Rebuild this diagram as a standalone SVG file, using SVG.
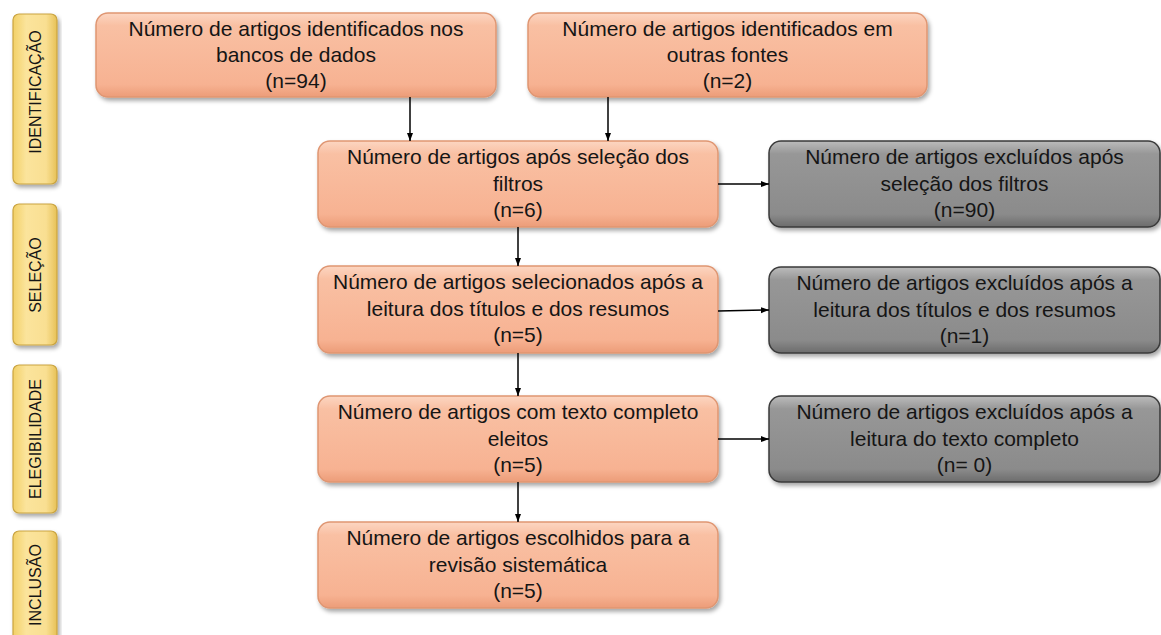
<svg xmlns="http://www.w3.org/2000/svg" width="1161" height="635" viewBox="0 0 1161 635">
<defs>
<linearGradient id="gOr" x1="0" y1="0" x2="0" y2="1">
<stop offset="0" stop-color="#fcd6c2"/>
<stop offset="0.15" stop-color="#f9c0a3"/>
<stop offset="0.85" stop-color="#f7b292"/>
<stop offset="1" stop-color="#ec9c78"/>
</linearGradient>
<linearGradient id="gGr" x1="0" y1="0" x2="0" y2="1">
<stop offset="0" stop-color="#bcbcbc"/>
<stop offset="0.15" stop-color="#979797"/>
<stop offset="0.85" stop-color="#8b8b8b"/>
<stop offset="1" stop-color="#6c6c6c"/>
</linearGradient>
<linearGradient id="gYe" x1="0" y1="0" x2="1" y2="0">
<stop offset="0" stop-color="#f2d067"/>
<stop offset="0.3" stop-color="#fbe49c"/>
<stop offset="0.75" stop-color="#f9df92"/>
<stop offset="1" stop-color="#e7c157"/>
</linearGradient>
<filter id="sh" x="-10%" y="-10%" width="120%" height="130%">
<feDropShadow dx="2" dy="3" stdDeviation="2" flood-color="#000" flood-opacity="0.35"/>
</filter>
<marker id="ah" markerUnits="userSpaceOnUse" markerWidth="8" markerHeight="8" viewBox="0 0 8 8" refX="8" refY="4" orient="auto">
<path d="M0,1 L8,4 L0,7 Z" fill="#000"/>
</marker>
<style>
.or{fill:url(#gOr);stroke:#df9672;stroke-width:1.5;filter:url(#sh)}
.gr{fill:url(#gGr);stroke:#3a3a3a;stroke-width:1.5;filter:url(#sh)}
.ye{fill:url(#gYe);stroke:#caa440;stroke-width:1.2;filter:url(#sh)}
.t{font-family:"Liberation Sans",Arial,sans-serif;font-size:21px;fill:#151515;text-anchor:middle}
.s{font-family:"Liberation Sans",Arial,sans-serif;font-size:16px;fill:#151515;text-anchor:middle}
.c{stroke:#000;stroke-width:1.5;fill:none;marker-end:url(#ah)}
</style>
</defs>
<rect width="1161" height="635" fill="#fff"/>

<g id="stage-identificacao">
<rect class="ye" x="13" y="14" width="44" height="170" rx="6"/>
<text class="s" transform="translate(41,92) rotate(-90)">IDENTIFICAÇÃO</text>
</g>
<g id="stage-selecao">
<rect class="ye" x="13" y="204" width="44" height="141" rx="6"/>
<text class="s" transform="translate(41,275) rotate(-90)">SELEÇÃO</text>
</g>
<g id="stage-elegibilidade">
<rect class="ye" x="13" y="365" width="44" height="148" rx="6"/>
<text class="s" transform="translate(41,439) rotate(-90)">ELEGIBILIDADE</text>
</g>
<g id="stage-inclusao">
<rect class="ye" x="13" y="531" width="44" height="130" rx="6"/>
<text class="s" transform="translate(41,585) rotate(-90)">INCLUSÃO</text>
</g>

<g id="n1">
<rect class="or" x="96" y="13" width="400" height="84" rx="12"/>
<text class="t" x="296" y="36">Número de artigos identificados nos</text>
<text class="t" x="296" y="62">bancos de dados</text>
<text class="t" x="296" y="88">(n=94)</text>
</g>
<g id="n2">
<rect class="or" x="528" y="13" width="399" height="84" rx="12"/>
<text class="t" x="727.5" y="36">Número de artigos identificados em</text>
<text class="t" x="727.5" y="62">outras fontes</text>
<text class="t" x="727.5" y="88">(n=2)</text>
</g>
<g id="n3">
<rect class="or" x="318" y="141" width="400" height="86" rx="12"/>
<text class="t" x="518" y="164">Número de artigos após seleção dos</text>
<text class="t" x="518" y="190.5">filtros</text>
<text class="t" x="518" y="217">(n=6)</text>
</g>
<g id="g1">
<rect class="gr" x="769" y="141" width="391" height="86" rx="12"/>
<text class="t" x="964.5" y="164">Número de artigos excluídos após</text>
<text class="t" x="964.5" y="190.5">seleção dos filtros</text>
<text class="t" x="964.5" y="217">(n=90)</text>
</g>
<g id="n4">
<rect class="or" x="318" y="266" width="400" height="87" rx="12"/>
<text class="t" x="518" y="289">Número de artigos selecionados após a</text>
<text class="t" x="518" y="315.5">leitura dos títulos e dos resumos</text>
<text class="t" x="518" y="342">(n=5)</text>
</g>
<g id="g2">
<rect class="gr" x="769" y="267" width="391" height="86" rx="12"/>
<text class="t" x="964.5" y="290">Número de artigos excluídos após a</text>
<text class="t" x="964.5" y="316.5">leitura dos títulos e dos resumos</text>
<text class="t" x="964.5" y="343">(n=1)</text>
</g>
<g id="n5">
<rect class="or" x="318" y="396" width="400" height="86" rx="12"/>
<text class="t" x="518" y="419">Número de artigos com texto completo</text>
<text class="t" x="518" y="445.5">eleitos</text>
<text class="t" x="518" y="472">(n=5)</text>
</g>
<g id="g3">
<rect class="gr" x="769" y="396" width="391" height="86" rx="12"/>
<text class="t" x="964.5" y="419">Número de artigos excluídos após a</text>
<text class="t" x="964.5" y="445.5">leitura do texto completo</text>
<text class="t" x="964.5" y="472">(n= 0)</text>
</g>
<g id="n6">
<rect class="or" x="318" y="522" width="400" height="86" rx="12"/>
<text class="t" x="518" y="545">Número de artigos escolhidos para a</text>
<text class="t" x="518" y="571.5">revisão sistemática</text>
<text class="t" x="518" y="598">(n=5)</text>
</g>

<g id="connectors">
<line class="c" x1="410" y1="97" x2="410" y2="141"/>
<line class="c" x1="608" y1="97" x2="608" y2="141"/>
<line class="c" x1="518" y1="227" x2="518" y2="266"/>
<line class="c" x1="518" y1="353" x2="518" y2="396"/>
<line class="c" x1="518" y1="482" x2="518" y2="522"/>
<line class="c" x1="718" y1="184" x2="769" y2="184"/>
<line class="c" x1="718" y1="311" x2="769" y2="310"/>
<line class="c" x1="718" y1="439" x2="769" y2="439"/>
</g>
</svg>
